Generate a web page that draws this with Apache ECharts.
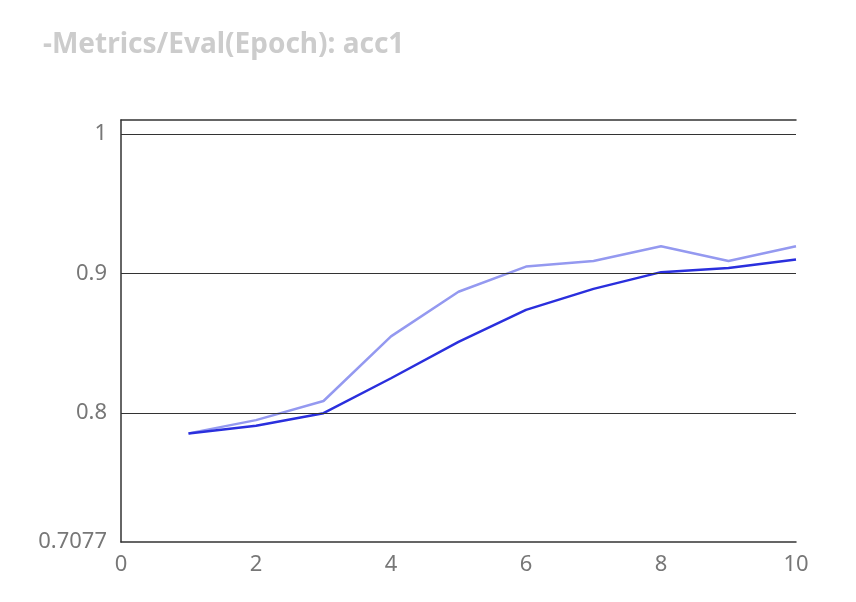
<!DOCTYPE html>
<html>
<head>
<meta charset="utf-8">
<script src="https://cdn.jsdelivr.net/npm/echarts@6/dist/echarts.min.js"></script>
<style>html,body{margin:0;padding:0;background:#fff}#main{width:856px;height:602px}</style>
</head>
<body>
<div id="main"></div>
<script>
var epochs = [1, 2, 3, 4, 5, 6, 7, 8, 9, 10];
var accLight = [0.7855, 0.795, 0.8087, 0.855, 0.887, 0.905, 0.909, 0.9196, 0.909, 0.9196];
var accDark = [0.7855, 0.791, 0.800, 0.825, 0.851, 0.874, 0.889, 0.901, 0.904, 0.910];
var yLabels = [0.7077, 0.8, 0.9, 1];
var gridLines = [0.8, 0.9, 1];
var yMin = 0.7077, yMax = 1.01;

var chart = echarts.init(document.getElementById('main'));
var labelStyle = {color: '#777', fontSize: 22, fontFamily: 'Noto Sans'};
chart.setOption({
    animation: false,
    title: {
        text: '-Metrics/Eval(Epoch): acc1',
        left: 38,
        top: 26,
        textStyle: {color: '#ccc', fontSize: 28, fontWeight: 'bold', fontFamily: 'Noto Sans'}
    },
    grid: {left: 121, right: 60, top: 120, bottom: 60},
    xAxis: [{
        type: 'value',
        min: 0,
        max: 10,
        interval: 2,
        axisLine: {lineStyle: {color: '#333', width: 1.5}},
        axisTick: {show: false},
        splitLine: {show: false},
        axisLabel: Object.assign({margin: 12}, labelStyle)
    }, {
        type: 'value',
        position: 'top',
        min: 0,
        max: 10,
        axisLine: {show: true, onZero: false, lineStyle: {color: '#333', width: 1.5}},
        axisTick: {show: false},
        axisLabel: {show: false},
        splitLine: {show: false}
    }],
    yAxis: {
        type: 'value',
        min: yMin,
        max: yMax,
        axisLine: {show: true, lineStyle: {color: '#333', width: 1.5}},
        axisTick: {show: false},
        splitLine: {show: false},
        axisLabel: Object.assign({customValues: yLabels, margin: 14, formatter: function (v) { return String(v); }}, labelStyle)
    },
    series: [{
        type: 'line',
        data: epochs.map(function (e, i) { return [e, accLight[i]]; }),
        showSymbol: false,
        lineStyle: {color: '#9499f0', width: 2.5},
        itemStyle: {color: '#9499f0'},
        markLine: {
            silent: true,
            symbol: 'none',
            label: {show: false},
            lineStyle: {color: '#333', type: 'solid', width: 1.2},
            data: gridLines.map(function (v) { return {yAxis: v}; })
        }
    }, {
        type: 'line',
        data: epochs.map(function (e, i) { return [e, accDark[i]]; }),
        showSymbol: false,
        lineStyle: {color: '#2a2fdd', width: 2.5},
        itemStyle: {color: '#2a2fdd'}
    }]
});
</script>
</body>
</html>
